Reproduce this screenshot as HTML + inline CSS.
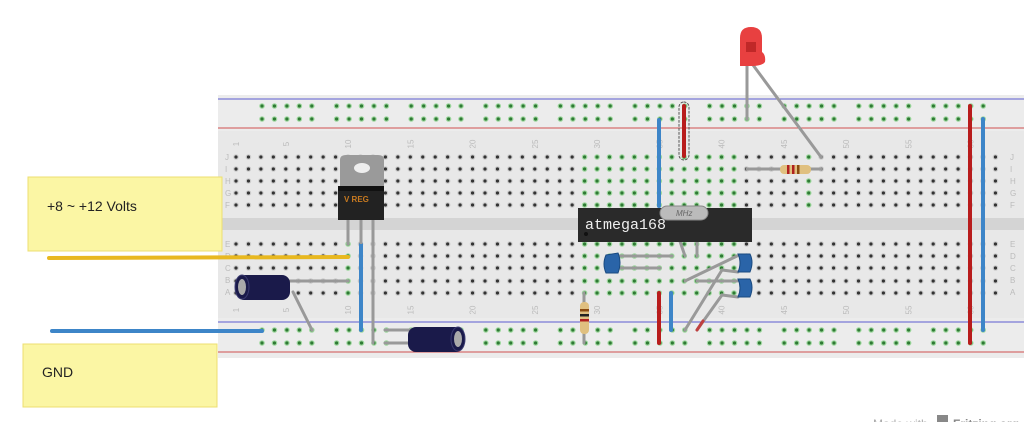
<!DOCTYPE html>
<html><head><meta charset="utf-8"><style>
html,body{margin:0;padding:0;background:#fff;width:1024px;height:422px;overflow:hidden}
svg{display:block}
</style></head><body>
<svg id="s" width="1024" height="422" viewBox="0 0 1024 422" xmlns="http://www.w3.org/2000/svg" font-family="Liberation Sans, sans-serif">
<rect x="218" y="95" width="806" height="263" fill="#e8e8e8"/>
<rect x="218" y="95" width="806" height="36" fill="#ececec"/>
<rect x="218" y="318" width="806" height="40" fill="#ececec"/>
<rect x="218" y="218" width="806" height="12" fill="#d4d4d4"/>
<line x1="218" y1="99" x2="1024" y2="99" stroke="#5b5bd0" stroke-width="1"/>
<line x1="218" y1="128" x2="1024" y2="128" stroke="#d05050" stroke-width="1"/>
<line x1="218" y1="322" x2="1024" y2="322" stroke="#5b5bd0" stroke-width="1"/>
<line x1="218" y1="352" x2="1024" y2="352" stroke="#d05050" stroke-width="1"/>
<g id="holes"></g>
<g font-size="8" fill="#bbb">
<text x="225" y="160">J</text><text x="225" y="172">I</text><text x="225" y="184">H</text><text x="225" y="196">G</text><text x="225" y="208">F</text>
<text x="225" y="247">E</text><text x="225" y="259">D</text><text x="225" y="271">C</text><text x="225" y="283">B</text><text x="225" y="295">A</text>
<text x="1010" y="160">J</text><text x="1010" y="172">I</text><text x="1010" y="184">H</text><text x="1010" y="196">G</text><text x="1010" y="208">F</text>
<text x="1010" y="247">E</text><text x="1010" y="259">D</text><text x="1010" y="271">C</text><text x="1010" y="283">B</text><text x="1010" y="295">A</text>
</g>
<g id="nums" font-size="8" fill="#bbb"></g>

<rect x="28" y="177" width="194" height="74" fill="#fbf6a4" stroke="#ecdf70"/>
<text x="47" y="211" font-size="14" fill="#222">+8  ~  +12 Volts</text>
<rect x="23" y="344" width="194" height="63" fill="#fbf6a4" stroke="#ecdf70"/>
<text x="42" y="377" font-size="14" fill="#222">GND</text>

<line x1="49" y1="258" x2="348" y2="257" stroke="#e8b820" stroke-width="4" stroke-linecap="round"/>
<line x1="52" y1="331" x2="262" y2="331" stroke="#3d85c8" stroke-width="4" stroke-linecap="round"/>

<g stroke="#999" stroke-width="3" stroke-linecap="round" fill="none">
<line x1="290" y1="281" x2="348" y2="281"/>
<line x1="293" y1="292" x2="312" y2="330"/>
<line x1="348" y1="220" x2="348" y2="244"/>
<line x1="373" y1="220" x2="373" y2="343"/>
<line x1="385" y1="330" x2="412" y2="330"/>
<line x1="385" y1="343" x2="412" y2="343"/>
<line x1="747" y1="65" x2="747" y2="119"/>
<line x1="753" y1="65" x2="821" y2="157"/>
<line x1="747" y1="169" x2="782" y2="169"/>
<line x1="810" y1="169" x2="821" y2="169"/>
<line x1="584" y1="293" x2="584" y2="343"/>
<line x1="672" y1="218" x2="685" y2="256"/>
<line x1="697" y1="218" x2="697" y2="256"/>
<line x1="620" y1="256" x2="672" y2="256"/>
<line x1="620" y1="268" x2="660" y2="268"/>
<line x1="685" y1="281" x2="737" y2="256"/>
<line x1="697" y1="281" x2="737" y2="281"/>
<line x1="685" y1="330" x2="722" y2="270" />
<line x1="722" y1="270" x2="738" y2="272"/>
<line x1="697" y1="330" x2="722" y2="295"/>
<line x1="722" y1="295" x2="738" y2="297"/>
</g>
<line x1="697" y1="330" x2="703" y2="321" stroke="#c04040" stroke-width="3" stroke-linecap="round"/>

<g stroke-width="4" stroke-linecap="round">
<line x1="361" y1="244" x2="361" y2="330" stroke="#3d85c8"/>
<line x1="659" y1="120" x2="659" y2="206" stroke="#3d85c8"/>
<rect x="679" y="102" width="10" height="58" rx="5" fill="none" stroke="#555" stroke-width="1" stroke-dasharray="2,2"/>
<line x1="684" y1="106" x2="684" y2="156" stroke="#b81c1c"/>
<line x1="659" y1="293" x2="659" y2="343" stroke="#b81c1c"/>
<line x1="671" y1="293" x2="671" y2="330" stroke="#3d85c8"/>
<line x1="970" y1="106" x2="970" y2="343" stroke="#b81c1c"/>
<line x1="983" y1="119" x2="983" y2="330" stroke="#3d85c8"/>
</g>

<path d="M340 160 Q340 155 346 155 L378 155 Q384 155 384 160 L384 186 L340 186 Z" fill="#9a9a9a"/>
<ellipse cx="362" cy="168" rx="8" ry="5" fill="#eee"/>
<rect x="338" y="186" width="46" height="34" fill="#222"/>
<rect x="338" y="186" width="46" height="5" fill="#111"/>
<text x="344" y="202" font-size="8" font-weight="bold" fill="#c87a20">V REG</text>
<g stroke="#999" stroke-width="3"><line x1="361" y1="220" x2="361" y2="244"/></g>

<rect x="236" y="275" width="54" height="25" rx="8" fill="#1a1a4a"/>
<ellipse cx="242" cy="287" rx="7" ry="12" fill="#1a1a4a" stroke="#3a3a70"/>
<ellipse cx="242" cy="287" rx="4" ry="8" fill="#aaa"/>
<rect x="408" y="327" width="56" height="25" rx="8" fill="#1a1a4a"/>
<ellipse cx="458" cy="339" rx="7" ry="12" fill="#1a1a4a" stroke="#3a3a70"/>
<ellipse cx="458" cy="339" rx="4" ry="8" fill="#aaa"/>

<rect x="578" y="208" width="174" height="34" fill="#2a2a2a"/>
<circle cx="586" cy="234" r="2" fill="#111"/>
<text x="585" y="229" font-size="15" font-family="Liberation Mono, monospace" fill="#eee">atmega168</text>
<rect x="660" y="206" width="48" height="14" rx="7" fill="#bbb" stroke="#888"/>
<text x="676" y="216" font-size="8" font-style="italic" fill="#666">MHz</text>

<g fill="#2a64a8" stroke="#1a4a80">
<path d="M606 255 L618 253 Q622 262 618 273 L606 273 Q602 264 606 255Z"/>
<path d="M738 254 L750 254 Q754 262 750 272 L738 272 Q742 263 738 254Z"/>
<path d="M738 279 L750 279 Q754 287 750 297 L738 297 Q742 288 738 279Z"/>
</g>

<rect x="780" y="165" width="31" height="9" rx="4" fill="#e0c080"/>
<rect x="787" y="165" width="2.5" height="9" fill="#b02020"/>
<rect x="792" y="165" width="2.5" height="9" fill="#b02020"/>
<rect x="797" y="165" width="2.5" height="9" fill="#8a4a10"/>
<rect x="580" y="302" width="9" height="32" rx="4" fill="#e0c080"/>
<rect x="580" y="309" width="9" height="2.5" fill="#8a4a10"/>
<rect x="580" y="314" width="9" height="2.5" fill="#222"/>
<rect x="580" y="319" width="9" height="2.5" fill="#b02020"/>

<path d="M740 64 L740 38 Q740 27 751 27 Q762 27 762 38 L762 52 Q766 55 765 62 Q762 66 752 66 L740 66Z" fill="#e84040"/>
<path d="M746 42 L756 42 L756 52 L746 52Z" fill="#c02828"/>

<text x="873" y="428" font-size="12" fill="#aaa">Made with</text>
<rect x="937" y="415" width="11" height="11" fill="#888"/>
<text x="953" y="428" font-size="12" font-weight="bold" fill="#888">Fritzing.org</text>
</svg>
<script>
(function(){
var ns="http://www.w3.org/2000/svg",g=document.getElementById("holes"),n=document.getElementById("nums");
function c(x,y,green){var e=document.createElementNS(ns,"circle");e.setAttribute("cx",x);e.setAttribute("cy",y);e.setAttribute("r",2.2);e.setAttribute("fill",green?"#2f7a34":"#333");e.setAttribute("stroke",green?"#9fd89f":"#ccc");e.setAttribute("stroke-width",1.2);g.appendChild(e);}
var k,i,x;
for(k=0;k<10;k++)for(i=0;i<5;i++){x=262+k*74.6+i*12.45;if(x>1010)continue;[106,119,330,343].forEach(function(y){c(x,y,true);});}
var rowsT=[157,169,181,193,205],rowsB=[244,256,268,281,293];
for(var col=1;col<=62;col++){var cx=236+(col-1)*12.45;if(cx>1004)break;
 var gt=(col>=29&&col<=41)||(col==47);
 rowsT.forEach(function(y){c(cx,y,gt);});
 var gb=(col==10)||(col>=29&&col<=41);
 rowsB.forEach(function(y){c(cx,y,gb);});
 if(col==1||col%5==0){[144,310].forEach(function(y){var t=document.createElementNS(ns,"text");t.setAttribute("x",cx+3);t.setAttribute("y",y);t.setAttribute("transform","rotate(-90 "+(cx+3)+" "+y+")");t.setAttribute("text-anchor","middle");t.textContent=String(col);n.appendChild(t);});}
}
})();
</script>
</body></html>
